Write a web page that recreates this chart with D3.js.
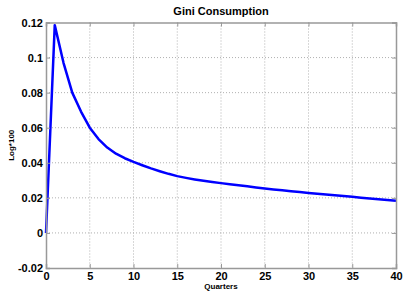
<html>
<head>
<script src="https://d3js.org/d3.v7.min.js"></script>
<style>
body { margin: 0; background: #fff; font-family: "Liberation Sans", Arial, sans-serif; }
.tick text { font-size: 11px; font-weight: bold; fill: #000; }
.grid line { stroke: #b0b0b0; stroke-dasharray: 1,2; }
</style>
</head>
<body>
<div id="chart"></div>
<script>
var quarters = d3.range(0, 41);
var gini = [0, 0.1185, 0.0970, 0.0800, 0.0692, 0.0600, 0.0535, 0.0487, 0.0452, 0.0426,
  0.0405, 0.0386, 0.0368, 0.0352, 0.0337, 0.0324, 0.0314, 0.0305, 0.0297, 0.0290,
  0.0284, 0.0278, 0.0272, 0.0266, 0.0259, 0.0253, 0.0248, 0.0243, 0.0238, 0.0233,
  0.0228, 0.0224, 0.0219, 0.0215, 0.0210, 0.0206, 0.0201, 0.0197, 0.0192, 0.0188, 0.0183];
var xTicks = [0, 5, 10, 15, 20, 25, 30, 35, 40];
var yTicks = [-0.02, 0, 0.02, 0.04, 0.06, 0.08, 0.1, 0.12];

var width = 403, height = 291;
var plotLeft = 46, plotRight = 396, plotTop = 22.5, plotBottom = 268;

var x = d3.scaleLinear().domain([0, 40]).range([plotLeft, plotRight]);
var y = d3.scaleLinear().domain([-0.02, 0.12]).range([plotBottom, plotTop]);

var svg = d3.select("#chart").append("svg")
  .attr("width", width).attr("height", height);

/* grid */
var grid = svg.append("g").attr("class", "grid");
grid.selectAll(".gx").data(xTicks.slice(1, -1)).enter().append("line")
  .attr("x1", d => x(d)).attr("x2", d => x(d))
  .attr("y1", plotTop).attr("y2", plotBottom);
grid.selectAll(".gy").data(yTicks.slice(1, -1)).enter().append("line")
  .attr("x1", plotLeft).attr("x2", plotRight)
  .attr("y1", d => y(d)).attr("y2", d => y(d));

/* line */
var line = d3.line().x((d, i) => x(quarters[i])).y(d => y(d));
svg.append("path")
  .datum(gini)
  .attr("d", line)
  .attr("fill", "none")
  .attr("stroke", "#0000ff")
  .attr("stroke-width", 2.5)
  .attr("stroke-linejoin", "round");

/* axes, MATLAB style ticks inward */
var fmt = d => d === 0 ? "0" : String(+d.toFixed(2));
svg.append("g")
  .attr("transform", `translate(0,${plotBottom})`)
  .call(d3.axisBottom(x).tickValues(xTicks).tickSize(-4).tickPadding(4).tickFormat(d3.format("d")))
  .call(g => g.selectAll("path, line").attr("stroke", "#999"));
svg.append("g")
  .attr("transform", `translate(${plotLeft},0)`)
  .call(d3.axisLeft(y).tickValues(yTicks).tickSize(-4).tickPadding(3).tickFormat(fmt))
  .call(g => g.selectAll("path, line").attr("stroke", "#999"));
svg.append("g")
  .attr("transform", `translate(0,${plotTop})`)
  .call(d3.axisTop(x).tickValues(xTicks).tickSize(-4).tickFormat(""))
  .call(g => g.selectAll("path, line").attr("stroke", "#999"));
svg.append("g")
  .attr("transform", `translate(${plotRight},0)`)
  .call(d3.axisRight(y).tickValues(yTicks).tickSize(-4).tickFormat(""))
  .call(g => g.selectAll("path, line").attr("stroke", "#999"));
svg.selectAll(".domain").attr("stroke-width", 1.5);

/* labels */
svg.append("text")
  .attr("x", (plotLeft + plotRight) / 2).attr("y", 15)
  .attr("text-anchor", "middle")
  .style("font-size", "11px").style("font-weight", "bold")
  .text("Gini Consumption");
svg.append("text")
  .attr("x", (plotLeft + plotRight) / 2).attr("y", 289)
  .attr("text-anchor", "middle")
  .style("font-size", "8px").style("font-weight", "bold")
  .text("Quarters");
svg.append("text")
  .attr("transform", `translate(14,${(plotTop + plotBottom) / 2}) rotate(-90)`)
  .attr("text-anchor", "middle")
  .style("font-size", "8px").style("font-weight", "bold")
  .text("Log*100");
</script>
</body>
</html>
